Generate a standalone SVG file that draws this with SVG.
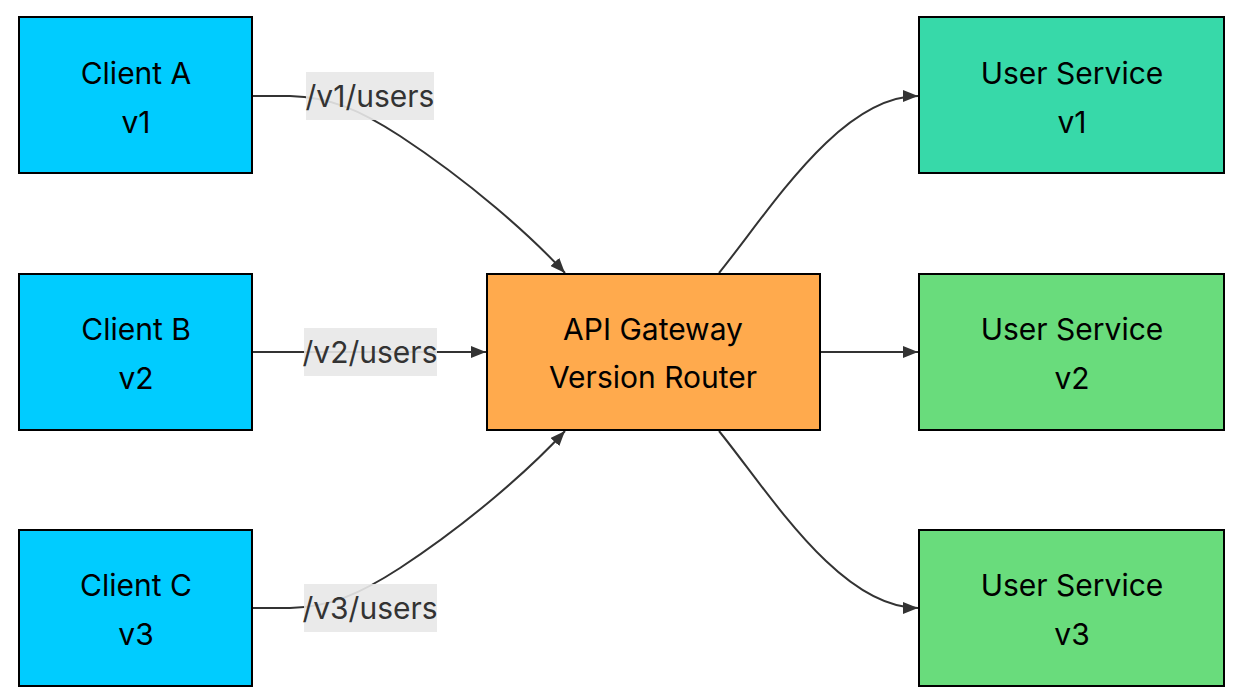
<svg xmlns="http://www.w3.org/2000/svg" width="1242" height="700" viewBox="0 0 1242 700">
<style>
.node rect{stroke:#000;stroke-width:2}
.client rect{fill:#00CCFF}
.gw rect{fill:#FFAA4D}
.svc1 rect{fill:#37D9A9}
.svc rect{fill:#69DC7C}
.nt{font-family:Inter,"Liberation Sans",sans-serif;font-size:30px;fill:#000;text-anchor:middle}
.edge{fill:none;stroke:#333;stroke-width:2}
.lbg{fill:#E8E8E8;fill-opacity:0.9}
.lt{font-family:Inter,"Liberation Sans",sans-serif;font-size:30px;fill:#333;text-anchor:middle}
</style>
<defs>
<marker id="arr" viewBox="0 0 15 12" refX="15" refY="6" markerWidth="15" markerHeight="12" markerUnits="userSpaceOnUse" orient="auto">
<path d="M0,0 L15,6 L0,12 z" fill="#333"/>
</marker>
</defs>
<rect width="1242" height="700" fill="#fff"/>
<g id="connectors">
<path class="edge" d="M252,96 L290,96 C330,97 360,110 400,136 C470,182 530,235 565,273" marker-end="url(#arr)"/>
<path class="edge" d="M252,352 L486,352" marker-end="url(#arr)"/>
<path class="edge" d="M252,608 L290,608 C330,607 360,594 400,568 C470,522 530,469 565,431" marker-end="url(#arr)"/>
<path class="edge" d="M719,273 C770,210 840,96 918,96" marker-end="url(#arr)"/>
<path class="edge" d="M820,352 L918,352" marker-end="url(#arr)"/>
<path class="edge" d="M719,431 C770,494 840,608 918,608" marker-end="url(#arr)"/>
<g id="label-v1"><rect class="lbg" x="306" y="72" width="128" height="48"/><text class="lt" x="370" y="107">/v1/users</text></g>
<g id="label-v2"><rect class="lbg" x="304" y="328" width="133" height="48"/><text class="lt" x="370" y="363">/v2/users</text></g>
<g id="label-v3"><rect class="lbg" x="304" y="584" width="133" height="48"/><text class="lt" x="370" y="619">/v3/users</text></g>
</g>
<g id="clientA" class="node client"><rect x="19" y="17" width="233" height="156"/><text class="nt" x="136" y="84">Client A</text><text class="nt" x="136" y="133">v1</text></g>
<g id="clientB" class="node client"><rect x="19" y="274" width="233" height="156"/><text class="nt" x="136" y="340">Client B</text><text class="nt" x="136" y="389">v2</text></g>
<g id="clientC" class="node client"><rect x="19" y="530" width="233" height="156"/><text class="nt" x="136" y="596">Client C</text><text class="nt" x="136" y="645">v3</text></g>
<g id="gateway" class="node gw"><rect x="487" y="274" width="333" height="156"/><text class="nt" x="653" y="340">API Gateway</text><text class="nt" x="653" y="388">Version Router</text></g>
<g id="svc1" class="node svc1"><rect x="919" y="17" width="305" height="156"/><text class="nt" x="1072" y="84">User Service</text><text class="nt" x="1072" y="133">v1</text></g>
<g id="svc2" class="node svc"><rect x="919" y="274" width="305" height="156"/><text class="nt" x="1072" y="340">User Service</text><text class="nt" x="1072" y="389">v2</text></g>
<g id="svc3" class="node svc"><rect x="919" y="530" width="305" height="156"/><text class="nt" x="1072" y="596">User Service</text><text class="nt" x="1072" y="645">v3</text></g>
</svg>
